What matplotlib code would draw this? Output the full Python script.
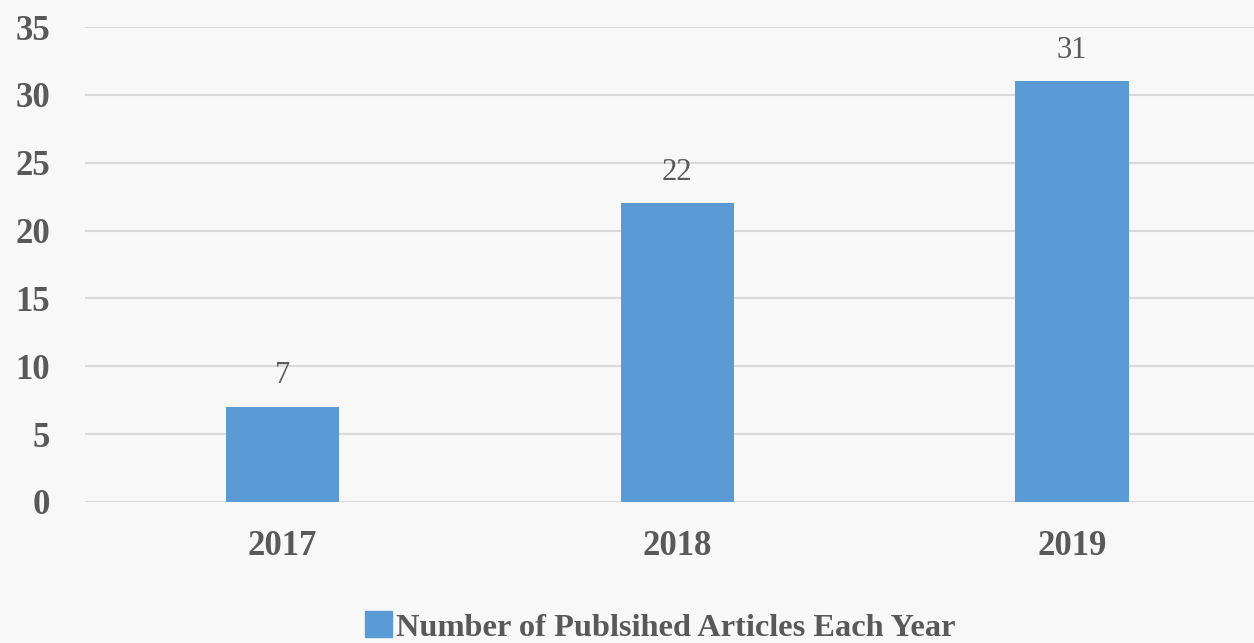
import matplotlib
matplotlib.use("Agg")
import matplotlib.pyplot as plt
from matplotlib.patches import Patch

years = ["2017", "2018", "2019"]
articles = [7, 22, 31]
series_name = "Number of Publsihed Articles Each Year"
yticks = [0, 5, 10, 15, 20, 25, 30, 35]

txt = "#595959"
bar_color = "#5B9BD5"
grid_color = "#d9d9d9"
bg = "#f8f8f8"

plt.rcParams['font.family'] = ['Liberation Serif', 'DejaVu Serif']

fig = plt.figure(figsize=(12.54, 6.43), dpi=100, facecolor=bg)
ax = fig.add_axes([85/1254, 141/643, 1 - 85/1254, 475/643])
ax.set_facecolor('none')

x = list(range(len(years)))
bars = ax.bar(x, articles, width=0.287, color=bar_color, zorder=3)
for xi, v in zip(x, articles):
    ax.annotate(str(v), (xi, v), xytext=(0, 12), textcoords='offset points',
                ha='center', va='bottom', fontsize=22, color=txt)

ax.set_xlim(-0.5, 2.461)
ax.set_ylim(0, 35)
ax.set_yticks(yticks)
ax.set_xticks(x)
ax.set_xticklabels(years)
ax.yaxis.grid(True, color=grid_color, linewidth=1.5, zorder=0)
ax.set_axisbelow(True)
for s in ax.spines.values():
    s.set_visible(False)
ax.tick_params(axis='both', length=0, colors=txt, labelsize=25)
ax.tick_params(axis='y', pad=25)
ax.tick_params(axis='x', pad=20)
for lab in ax.get_xticklabels() + ax.get_yticklabels():
    lab.set_fontweight('bold')
    lab.set_color(txt)

leg = fig.legend(handles=[Patch(color=bar_color, label=series_name)],
                 loc='center', bbox_to_anchor=(660/1254, 1 - 627/643),
                 frameon=False, handlelength=0.85, handleheight=0.85,
                 handletextpad=0.1, borderpad=0.1,
                 prop={'weight': 'bold', 'size': 23.3})
for t in leg.get_texts():
    t.set_color(txt)

fig.savefig("out.png", dpi=100, facecolor=bg)
